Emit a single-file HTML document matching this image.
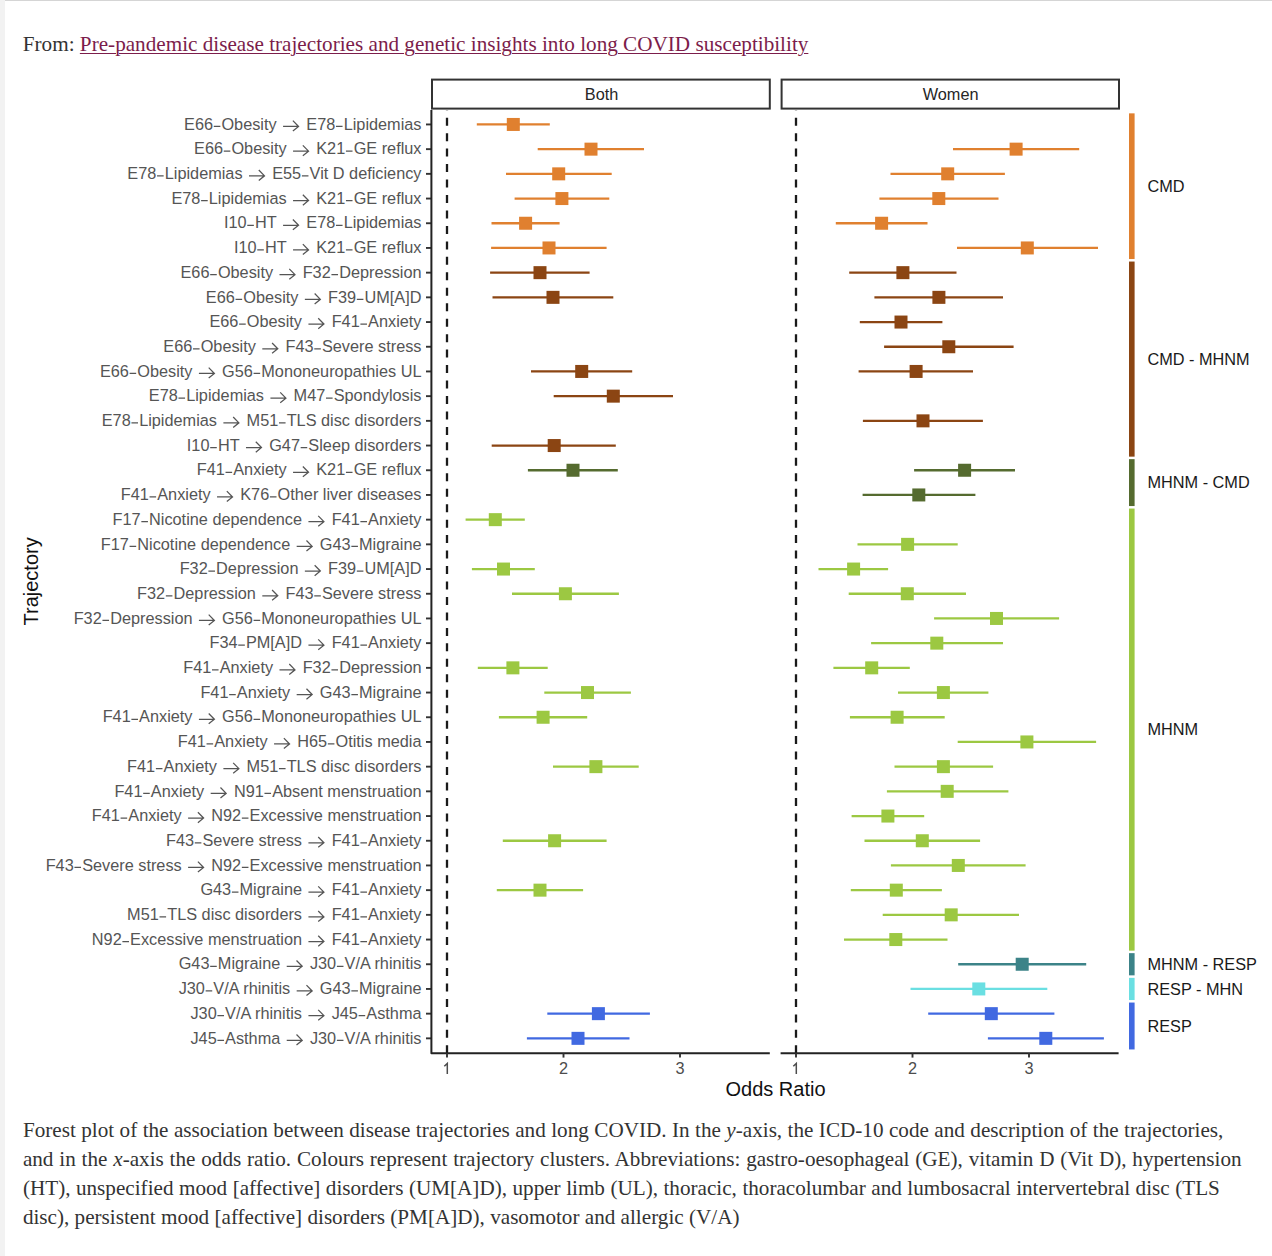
<!DOCTYPE html>
<html><head><meta charset="utf-8"><style>
html,body{margin:0;padding:0;background:#fff;}
body{width:1272px;height:1256px;position:relative;overflow:hidden;}
.edge-top{position:absolute;left:0;top:0;width:1272px;height:1px;background:#d5d5d5;}
.edge-left{position:absolute;left:0;top:0;width:5px;height:1256px;background:#f2f2f2;}
.from{position:absolute;left:22.8px;top:30px;font-family:"Liberation Serif",serif;font-size:21.18px;line-height:28px;color:#333;white-space:nowrap;}
.from a{color:#7c1d4b;text-decoration:underline;text-underline-offset:2px;text-decoration-thickness:1px;}
.cap{position:absolute;left:22.9px;top:1116px;font-family:"Liberation Serif",serif;font-size:21.16px;line-height:29.05px;color:#333;white-space:nowrap;}
svg{position:absolute;left:0;top:0;}
.yl{font-family:"Liberation Sans",sans-serif;font-size:16.3px;fill:#555;text-anchor:end;}
.xl{font-family:"Liberation Sans",sans-serif;font-size:16.3px;fill:#4d4d4d;text-anchor:middle;}
.st{font-family:"Liberation Sans",sans-serif;font-size:16.3px;fill:#262626;text-anchor:middle;}
.cl{font-family:"Liberation Sans",sans-serif;font-size:16.3px;fill:#1a1a1a;}
.ti{font-family:"Liberation Sans",sans-serif;font-size:20px;fill:#111;}
.sym{stroke:#555;stroke-width:1.25;fill:none;}
.one{stroke:#4d4d4d;stroke-width:1.5;fill:none;stroke-linejoin:miter;}
.tk{stroke:#333;stroke-width:1.9;}
.ax{stroke:#222;stroke-width:2;fill:none;stroke-linejoin:round;}
.strip{stroke:#333;stroke-width:2;fill:#fff;}
.dash{stroke:#1a1a1a;stroke-width:2.3;stroke-dasharray:8 7.46;stroke-dashoffset:7.76;}
</style></head><body>
<div class="edge-top"></div><div class="edge-left"></div>
<div class="from">From: <a>Pre-pandemic disease trajectories and genetic insights into long COVID susceptibility</a></div>
<svg width="1272" height="1256" viewBox="0 0 1272 1256">
<text x="421.50" y="129.65" class="yl">Lipidemias</text>
<text x="335.26" y="129.65" class="yl">E78</text>
<text x="276.67" y="129.65" class="yl">Obesity</text>
<text x="213.07" y="129.65" class="yl">E66</text>
<path d="M335.96 126.45h6.6M213.77 126.45h6.6M283.07 126.45h15.4M292.87 120.65l5.7 5.8l-5.7 4.6" class="sym"/>
<line x1="426" y1="124.45" x2="431.4" y2="124.45" class="tk"/>
<text x="421.50" y="154.35" class="yl">GE reflux</text>
<text x="345.23" y="154.35" class="yl">K21</text>
<text x="286.64" y="154.35" class="yl">Obesity</text>
<text x="223.04" y="154.35" class="yl">E66</text>
<path d="M345.93 151.15h6.6M223.74 151.15h6.6M293.04 151.15h15.4M302.84 145.35l5.7 5.8l-5.7 4.6" class="sym"/>
<line x1="426" y1="149.15" x2="431.4" y2="149.15" class="tk"/>
<text x="421.50" y="179.05" class="yl">Vit D deficiency</text>
<text x="301.18" y="179.05" class="yl">E55</text>
<text x="242.59" y="179.05" class="yl">Lipidemias</text>
<text x="156.35" y="179.05" class="yl">E78</text>
<path d="M301.88 175.85h6.6M157.05 175.85h6.6M248.99 175.85h15.4M258.79 170.05l5.7 5.8l-5.7 4.6" class="sym"/>
<line x1="426" y1="173.85" x2="431.4" y2="173.85" class="tk"/>
<text x="421.50" y="203.75" class="yl">GE reflux</text>
<text x="345.23" y="203.75" class="yl">K21</text>
<text x="286.64" y="203.75" class="yl">Lipidemias</text>
<text x="200.40" y="203.75" class="yl">E78</text>
<path d="M345.93 200.55h6.6M201.10 200.55h6.6M293.04 200.55h15.4M302.84 194.75l5.7 5.8l-5.7 4.6" class="sym"/>
<line x1="426" y1="198.55" x2="431.4" y2="198.55" class="tk"/>
<text x="421.50" y="228.45" class="yl">Lipidemias</text>
<text x="335.26" y="228.45" class="yl">E78</text>
<text x="276.67" y="228.45" class="yl">HT</text>
<text x="246.57" y="228.45" class="yl">I10</text>
<path d="M335.96 225.25h6.6M247.27 225.25h6.6M283.07 225.25h15.4M292.87 219.45l5.7 5.8l-5.7 4.6" class="sym"/>
<line x1="426" y1="223.25" x2="431.4" y2="223.25" class="tk"/>
<text x="421.50" y="253.15" class="yl">GE reflux</text>
<text x="345.23" y="253.15" class="yl">K21</text>
<text x="286.64" y="253.15" class="yl">HT</text>
<text x="256.54" y="253.15" class="yl">I10</text>
<path d="M345.93 249.95h6.6M257.24 249.95h6.6M293.04 249.95h15.4M302.84 244.15l5.7 5.8l-5.7 4.6" class="sym"/>
<line x1="426" y1="247.95" x2="431.4" y2="247.95" class="tk"/>
<text x="421.50" y="277.85" class="yl">Depression</text>
<text x="330.74" y="277.85" class="yl">F32</text>
<text x="273.08" y="277.85" class="yl">Obesity</text>
<text x="209.47" y="277.85" class="yl">E66</text>
<path d="M331.44 274.65h6.6M210.17 274.65h6.6M279.48 274.65h15.4M289.28 268.85l5.7 5.8l-5.7 4.6" class="sym"/>
<line x1="426" y1="272.65" x2="431.4" y2="272.65" class="tk"/>
<text x="421.50" y="302.55" class="yl">UM[A]D</text>
<text x="356.12" y="302.55" class="yl">F39</text>
<text x="298.45" y="302.55" class="yl">Obesity</text>
<text x="234.85" y="302.55" class="yl">E66</text>
<path d="M356.82 299.35h6.6M235.55 299.35h6.6M304.85 299.35h15.4M314.65 293.55l5.7 5.8l-5.7 4.6" class="sym"/>
<line x1="426" y1="297.35" x2="431.4" y2="297.35" class="tk"/>
<text x="421.50" y="327.25" class="yl">Anxiety</text>
<text x="359.69" y="327.25" class="yl">F41</text>
<text x="302.03" y="327.25" class="yl">Obesity</text>
<text x="238.43" y="327.25" class="yl">E66</text>
<path d="M360.39 324.05h6.6M239.13 324.05h6.6M308.43 324.05h15.4M318.23 318.25l5.7 5.8l-5.7 4.6" class="sym"/>
<line x1="426" y1="322.05" x2="431.4" y2="322.05" class="tk"/>
<text x="421.50" y="351.95" class="yl">Severe stress</text>
<text x="313.55" y="351.95" class="yl">F43</text>
<text x="255.89" y="351.95" class="yl">Obesity</text>
<text x="192.29" y="351.95" class="yl">E66</text>
<path d="M314.25 348.75h6.6M192.99 348.75h6.6M262.29 348.75h15.4M272.09 342.95l5.7 5.8l-5.7 4.6" class="sym"/>
<line x1="426" y1="346.75" x2="431.4" y2="346.75" class="tk"/>
<text x="421.50" y="376.65" class="yl">Mononeuropathies UL</text>
<text x="252.88" y="376.65" class="yl">G56</text>
<text x="192.50" y="376.65" class="yl">Obesity</text>
<text x="128.90" y="376.65" class="yl">E66</text>
<path d="M253.58 373.45h6.6M129.60 373.45h6.6M198.90 373.45h15.4M208.70 367.65l5.7 5.8l-5.7 4.6" class="sym"/>
<line x1="426" y1="371.45" x2="431.4" y2="371.45" class="tk"/>
<text x="421.50" y="401.35" class="yl">Spondylosis</text>
<text x="325.30" y="401.35" class="yl">M47</text>
<text x="264.02" y="401.35" class="yl">Lipidemias</text>
<text x="177.77" y="401.35" class="yl">E78</text>
<path d="M326.00 398.15h6.6M178.47 398.15h6.6M270.42 398.15h15.4M280.22 392.35l5.7 5.8l-5.7 4.6" class="sym"/>
<line x1="426" y1="396.15" x2="431.4" y2="396.15" class="tk"/>
<text x="421.50" y="426.05" class="yl">TLS disc disorders</text>
<text x="278.27" y="426.05" class="yl">M51</text>
<text x="216.98" y="426.05" class="yl">Lipidemias</text>
<text x="130.74" y="426.05" class="yl">E78</text>
<path d="M278.97 422.85h6.6M131.44 422.85h6.6M223.38 422.85h15.4M233.18 417.05l5.7 5.8l-5.7 4.6" class="sym"/>
<line x1="426" y1="420.85" x2="431.4" y2="420.85" class="tk"/>
<text x="421.50" y="450.75" class="yl">Sleep disorders</text>
<text x="299.96" y="450.75" class="yl">G47</text>
<text x="239.58" y="450.75" class="yl">HT</text>
<text x="209.48" y="450.75" class="yl">I10</text>
<path d="M300.66 447.55h6.6M210.18 447.55h6.6M245.98 447.55h15.4M255.78 441.75l5.7 5.8l-5.7 4.6" class="sym"/>
<line x1="426" y1="445.55" x2="431.4" y2="445.55" class="tk"/>
<text x="421.50" y="475.45" class="yl">GE reflux</text>
<text x="345.23" y="475.45" class="yl">K21</text>
<text x="286.64" y="475.45" class="yl">Anxiety</text>
<text x="224.83" y="475.45" class="yl">F41</text>
<path d="M345.93 472.25h6.6M225.53 472.25h6.6M293.04 472.25h15.4M302.84 466.45l5.7 5.8l-5.7 4.6" class="sym"/>
<line x1="426" y1="470.25" x2="431.4" y2="470.25" class="tk"/>
<text x="421.50" y="500.15" class="yl">Other liver diseases</text>
<text x="269.21" y="500.15" class="yl">K76</text>
<text x="210.63" y="500.15" class="yl">Anxiety</text>
<text x="148.82" y="500.15" class="yl">F41</text>
<path d="M269.91 496.95h6.6M149.52 496.95h6.6M217.03 496.95h15.4M226.83 491.15l5.7 5.8l-5.7 4.6" class="sym"/>
<line x1="426" y1="494.95" x2="431.4" y2="494.95" class="tk"/>
<text x="421.50" y="524.85" class="yl">Anxiety</text>
<text x="359.69" y="524.85" class="yl">F41</text>
<text x="302.03" y="524.85" class="yl">Nicotine dependence</text>
<text x="140.65" y="524.85" class="yl">F17</text>
<path d="M360.39 521.65h6.6M141.35 521.65h6.6M308.43 521.65h15.4M318.23 515.85l5.7 5.8l-5.7 4.6" class="sym"/>
<line x1="426" y1="519.65" x2="431.4" y2="519.65" class="tk"/>
<text x="421.50" y="549.55" class="yl">Migraine</text>
<text x="350.65" y="549.55" class="yl">G43</text>
<text x="290.27" y="549.55" class="yl">Nicotine dependence</text>
<text x="128.88" y="549.55" class="yl">F17</text>
<path d="M351.35 546.35h6.6M129.58 546.35h6.6M296.67 546.35h15.4M306.47 540.55l5.7 5.8l-5.7 4.6" class="sym"/>
<line x1="426" y1="544.35" x2="431.4" y2="544.35" class="tk"/>
<text x="421.50" y="574.25" class="yl">UM[A]D</text>
<text x="356.12" y="574.25" class="yl">F39</text>
<text x="298.45" y="574.25" class="yl">Depression</text>
<text x="207.69" y="574.25" class="yl">F32</text>
<path d="M356.82 571.05h6.6M208.39 571.05h6.6M304.85 571.05h15.4M314.65 565.25l5.7 5.8l-5.7 4.6" class="sym"/>
<line x1="426" y1="569.05" x2="431.4" y2="569.05" class="tk"/>
<text x="421.50" y="598.95" class="yl">Severe stress</text>
<text x="313.55" y="598.95" class="yl">F43</text>
<text x="255.89" y="598.95" class="yl">Depression</text>
<text x="165.13" y="598.95" class="yl">F32</text>
<path d="M314.25 595.75h6.6M165.83 595.75h6.6M262.29 595.75h15.4M272.09 589.95l5.7 5.8l-5.7 4.6" class="sym"/>
<line x1="426" y1="593.75" x2="431.4" y2="593.75" class="tk"/>
<text x="421.50" y="623.65" class="yl">Mononeuropathies UL</text>
<text x="252.88" y="623.65" class="yl">G56</text>
<text x="192.50" y="623.65" class="yl">Depression</text>
<text x="101.74" y="623.65" class="yl">F32</text>
<path d="M253.58 620.45h6.6M102.44 620.45h6.6M198.90 620.45h15.4M208.70 614.65l5.7 5.8l-5.7 4.6" class="sym"/>
<line x1="426" y1="618.45" x2="431.4" y2="618.45" class="tk"/>
<text x="421.50" y="648.35" class="yl">Anxiety</text>
<text x="359.69" y="648.35" class="yl">F41</text>
<text x="302.03" y="648.35" class="yl">PM[A]D</text>
<text x="237.54" y="648.35" class="yl">F34</text>
<path d="M360.39 645.15h6.6M238.24 645.15h6.6M308.43 645.15h15.4M318.23 639.35l5.7 5.8l-5.7 4.6" class="sym"/>
<line x1="426" y1="643.15" x2="431.4" y2="643.15" class="tk"/>
<text x="421.50" y="673.05" class="yl">Depression</text>
<text x="330.74" y="673.05" class="yl">F32</text>
<text x="273.08" y="673.05" class="yl">Anxiety</text>
<text x="211.27" y="673.05" class="yl">F41</text>
<path d="M331.44 669.85h6.6M211.97 669.85h6.6M279.48 669.85h15.4M289.28 664.05l5.7 5.8l-5.7 4.6" class="sym"/>
<line x1="426" y1="667.85" x2="431.4" y2="667.85" class="tk"/>
<text x="421.50" y="697.75" class="yl">Migraine</text>
<text x="350.65" y="697.75" class="yl">G43</text>
<text x="290.27" y="697.75" class="yl">Anxiety</text>
<text x="228.46" y="697.75" class="yl">F41</text>
<path d="M351.35 694.55h6.6M229.16 694.55h6.6M296.67 694.55h15.4M306.47 688.75l5.7 5.8l-5.7 4.6" class="sym"/>
<line x1="426" y1="692.55" x2="431.4" y2="692.55" class="tk"/>
<text x="421.50" y="722.45" class="yl">Mononeuropathies UL</text>
<text x="252.88" y="722.45" class="yl">G56</text>
<text x="192.50" y="722.45" class="yl">Anxiety</text>
<text x="130.69" y="722.45" class="yl">F41</text>
<path d="M253.58 719.25h6.6M131.39 719.25h6.6M198.90 719.25h15.4M208.70 713.45l5.7 5.8l-5.7 4.6" class="sym"/>
<line x1="426" y1="717.25" x2="431.4" y2="717.25" class="tk"/>
<text x="421.50" y="747.15" class="yl">Otitis media</text>
<text x="327.13" y="747.15" class="yl">H65</text>
<text x="267.66" y="747.15" class="yl">Anxiety</text>
<text x="205.85" y="747.15" class="yl">F41</text>
<path d="M327.83 743.95h6.6M206.55 743.95h6.6M274.06 743.95h15.4M283.86 738.15l5.7 5.8l-5.7 4.6" class="sym"/>
<line x1="426" y1="741.95" x2="431.4" y2="741.95" class="tk"/>
<text x="421.50" y="771.85" class="yl">TLS disc disorders</text>
<text x="278.27" y="771.85" class="yl">M51</text>
<text x="216.98" y="771.85" class="yl">Anxiety</text>
<text x="155.18" y="771.85" class="yl">F41</text>
<path d="M278.97 768.65h6.6M155.88 768.65h6.6M223.38 768.65h15.4M233.18 762.85l5.7 5.8l-5.7 4.6" class="sym"/>
<line x1="426" y1="766.65" x2="431.4" y2="766.65" class="tk"/>
<text x="421.50" y="796.55" class="yl">Absent menstruation</text>
<text x="263.76" y="796.55" class="yl">N91</text>
<text x="204.28" y="796.55" class="yl">Anxiety</text>
<text x="142.48" y="796.55" class="yl">F41</text>
<path d="M264.46 793.35h6.6M143.18 793.35h6.6M210.68 793.35h15.4M220.48 787.55l5.7 5.8l-5.7 4.6" class="sym"/>
<line x1="426" y1="791.35" x2="431.4" y2="791.35" class="tk"/>
<text x="421.50" y="821.25" class="yl">Excessive menstruation</text>
<text x="241.16" y="821.25" class="yl">N92</text>
<text x="181.69" y="821.25" class="yl">Anxiety</text>
<text x="119.88" y="821.25" class="yl">F41</text>
<path d="M241.86 818.05h6.6M120.58 818.05h6.6M188.09 818.05h15.4M197.89 812.25l5.7 5.8l-5.7 4.6" class="sym"/>
<line x1="426" y1="816.05" x2="431.4" y2="816.05" class="tk"/>
<text x="421.50" y="845.95" class="yl">Anxiety</text>
<text x="359.69" y="845.95" class="yl">F41</text>
<text x="302.03" y="845.95" class="yl">Severe stress</text>
<text x="194.08" y="845.95" class="yl">F43</text>
<path d="M360.39 842.75h6.6M194.78 842.75h6.6M308.43 842.75h15.4M318.23 836.95l5.7 5.8l-5.7 4.6" class="sym"/>
<line x1="426" y1="840.75" x2="431.4" y2="840.75" class="tk"/>
<text x="421.50" y="870.65" class="yl">Excessive menstruation</text>
<text x="241.16" y="870.65" class="yl">N92</text>
<text x="181.69" y="870.65" class="yl">Severe stress</text>
<text x="73.74" y="870.65" class="yl">F43</text>
<path d="M241.86 867.45h6.6M74.44 867.45h6.6M188.09 867.45h15.4M197.89 861.65l5.7 5.8l-5.7 4.6" class="sym"/>
<line x1="426" y1="865.45" x2="431.4" y2="865.45" class="tk"/>
<text x="421.50" y="895.35" class="yl">Anxiety</text>
<text x="359.69" y="895.35" class="yl">F41</text>
<text x="302.03" y="895.35" class="yl">Migraine</text>
<text x="231.18" y="895.35" class="yl">G43</text>
<path d="M360.39 892.15h6.6M231.88 892.15h6.6M308.43 892.15h15.4M318.23 886.35l5.7 5.8l-5.7 4.6" class="sym"/>
<line x1="426" y1="890.15" x2="431.4" y2="890.15" class="tk"/>
<text x="421.50" y="920.05" class="yl">Anxiety</text>
<text x="359.69" y="920.05" class="yl">F41</text>
<text x="302.03" y="920.05" class="yl">TLS disc disorders</text>
<text x="158.80" y="920.05" class="yl">M51</text>
<path d="M360.39 916.85h6.6M159.50 916.85h6.6M308.43 916.85h15.4M318.23 911.05l5.7 5.8l-5.7 4.6" class="sym"/>
<line x1="426" y1="914.85" x2="431.4" y2="914.85" class="tk"/>
<text x="421.50" y="944.75" class="yl">Anxiety</text>
<text x="359.69" y="944.75" class="yl">F41</text>
<text x="302.03" y="944.75" class="yl">Excessive menstruation</text>
<text x="121.69" y="944.75" class="yl">N92</text>
<path d="M360.39 941.55h6.6M122.39 941.55h6.6M308.43 941.55h15.4M318.23 935.75l5.7 5.8l-5.7 4.6" class="sym"/>
<line x1="426" y1="939.55" x2="431.4" y2="939.55" class="tk"/>
<text x="421.50" y="969.45" class="yl">V/A rhinitis</text>
<text x="336.18" y="969.45" class="yl">J30</text>
<text x="280.31" y="969.45" class="yl">Migraine</text>
<text x="209.46" y="969.45" class="yl">G43</text>
<path d="M336.88 966.25h6.6M210.16 966.25h6.6M286.71 966.25h15.4M296.51 960.45l5.7 5.8l-5.7 4.6" class="sym"/>
<line x1="426" y1="964.25" x2="431.4" y2="964.25" class="tk"/>
<text x="421.50" y="994.15" class="yl">Migraine</text>
<text x="350.65" y="994.15" class="yl">G43</text>
<text x="290.27" y="994.15" class="yl">V/A rhinitis</text>
<text x="204.94" y="994.15" class="yl">J30</text>
<path d="M351.35 990.95h6.6M205.64 990.95h6.6M296.67 990.95h15.4M306.47 985.15l5.7 5.8l-5.7 4.6" class="sym"/>
<line x1="426" y1="988.95" x2="431.4" y2="988.95" class="tk"/>
<text x="421.50" y="1018.85" class="yl">Asthma</text>
<text x="357.90" y="1018.85" class="yl">J45</text>
<text x="302.03" y="1018.85" class="yl">V/A rhinitis</text>
<text x="216.71" y="1018.85" class="yl">J30</text>
<path d="M358.60 1015.65h6.6M217.41 1015.65h6.6M308.43 1015.65h15.4M318.23 1009.85l5.7 5.8l-5.7 4.6" class="sym"/>
<line x1="426" y1="1013.65" x2="431.4" y2="1013.65" class="tk"/>
<text x="421.50" y="1043.55" class="yl">V/A rhinitis</text>
<text x="336.18" y="1043.55" class="yl">J30</text>
<text x="280.31" y="1043.55" class="yl">Asthma</text>
<text x="216.71" y="1043.55" class="yl">J45</text>
<path d="M336.88 1040.35h6.6M217.41 1040.35h6.6M286.71 1040.35h15.4M296.51 1034.55l5.7 5.8l-5.7 4.6" class="sym"/>
<line x1="426" y1="1038.35" x2="431.4" y2="1038.35" class="tk"/>
<rect x="432.00" y="79.6" width="337.80" height="29" class="strip"/>
<text x="601.60" y="99.8" class="st">Both</text>
<line x1="447" y1="110" x2="447" y2="1053.3" class="dash"/>
<path d="M431.4 110 L431.4 1053.3 L769.8 1053.3" class="ax"/>
<line x1="447.00" y1="1053.3" x2="447.00" y2="1057.6" class="tk"/>
<path d="M447.30 1074 V1063.4 L444.30 1066.3" class="one"/>
<line x1="563.50" y1="1053.3" x2="563.50" y2="1057.6" class="tk"/>
<text x="563.50" y="1074" class="xl">2</text>
<line x1="680.00" y1="1053.3" x2="680.00" y2="1057.6" class="tk"/>
<text x="680.00" y="1074" class="xl">3</text>
<line x1="476.8" y1="124.45" x2="549.8" y2="124.45" stroke="#E0802F" stroke-width="2.3"/>
<rect x="506.80" y="117.95" width="13.0" height="13.0" fill="#E0802F"/>
<line x1="537.7" y1="149.15" x2="644" y2="149.15" stroke="#E0802F" stroke-width="2.3"/>
<rect x="584.50" y="142.65" width="13.0" height="13.0" fill="#E0802F"/>
<line x1="506" y1="173.85" x2="611.7" y2="173.85" stroke="#E0802F" stroke-width="2.3"/>
<rect x="552.20" y="167.35" width="13.0" height="13.0" fill="#E0802F"/>
<line x1="514.6" y1="198.55" x2="609.3" y2="198.55" stroke="#E0802F" stroke-width="2.3"/>
<rect x="555.40" y="192.05" width="13.0" height="13.0" fill="#E0802F"/>
<line x1="491.5" y1="223.25" x2="559.6" y2="223.25" stroke="#E0802F" stroke-width="2.3"/>
<rect x="519.10" y="216.75" width="13.0" height="13.0" fill="#E0802F"/>
<line x1="491.1" y1="247.95" x2="606.6" y2="247.95" stroke="#E0802F" stroke-width="2.3"/>
<rect x="542.50" y="241.45" width="13.0" height="13.0" fill="#E0802F"/>
<line x1="490.1" y1="272.65" x2="589.6" y2="272.65" stroke="#8B4513" stroke-width="2.3"/>
<rect x="533.50" y="266.15" width="13.0" height="13.0" fill="#8B4513"/>
<line x1="492.5" y1="297.35" x2="613.3" y2="297.35" stroke="#8B4513" stroke-width="2.3"/>
<rect x="546.50" y="290.85" width="13.0" height="13.0" fill="#8B4513"/>
<line x1="531" y1="371.45" x2="632.2" y2="371.45" stroke="#8B4513" stroke-width="2.3"/>
<rect x="575.20" y="364.95" width="13.0" height="13.0" fill="#8B4513"/>
<line x1="553.7" y1="396.15" x2="673" y2="396.15" stroke="#8B4513" stroke-width="2.3"/>
<rect x="606.80" y="389.65" width="13.0" height="13.0" fill="#8B4513"/>
<line x1="491.7" y1="445.55" x2="615.8" y2="445.55" stroke="#8B4513" stroke-width="2.3"/>
<rect x="547.70" y="439.05" width="13.0" height="13.0" fill="#8B4513"/>
<line x1="527.9" y1="470.25" x2="617.8" y2="470.25" stroke="#556B2F" stroke-width="2.3"/>
<rect x="566.50" y="463.75" width="13.0" height="13.0" fill="#556B2F"/>
<line x1="465.6" y1="519.65" x2="524.8" y2="519.65" stroke="#9CC842" stroke-width="2.3"/>
<rect x="488.80" y="513.15" width="13.0" height="13.0" fill="#9CC842"/>
<line x1="471.9" y1="569.05" x2="534.8" y2="569.05" stroke="#9CC842" stroke-width="2.3"/>
<rect x="497.00" y="562.55" width="13.0" height="13.0" fill="#9CC842"/>
<line x1="512" y1="593.75" x2="618.9" y2="593.75" stroke="#9CC842" stroke-width="2.3"/>
<rect x="558.90" y="587.25" width="13.0" height="13.0" fill="#9CC842"/>
<line x1="477.8" y1="667.85" x2="547.7" y2="667.85" stroke="#9CC842" stroke-width="2.3"/>
<rect x="506.40" y="661.35" width="13.0" height="13.0" fill="#9CC842"/>
<line x1="544.3" y1="692.55" x2="630.9" y2="692.55" stroke="#9CC842" stroke-width="2.3"/>
<rect x="581.00" y="686.05" width="13.0" height="13.0" fill="#9CC842"/>
<line x1="498.9" y1="717.25" x2="587.2" y2="717.25" stroke="#9CC842" stroke-width="2.3"/>
<rect x="536.60" y="710.75" width="13.0" height="13.0" fill="#9CC842"/>
<line x1="553" y1="766.65" x2="638.7" y2="766.65" stroke="#9CC842" stroke-width="2.3"/>
<rect x="589.40" y="760.15" width="13.0" height="13.0" fill="#9CC842"/>
<line x1="502.8" y1="840.75" x2="606.6" y2="840.75" stroke="#9CC842" stroke-width="2.3"/>
<rect x="548.10" y="834.25" width="13.0" height="13.0" fill="#9CC842"/>
<line x1="496.8" y1="890.15" x2="583.1" y2="890.15" stroke="#9CC842" stroke-width="2.3"/>
<rect x="533.50" y="883.65" width="13.0" height="13.0" fill="#9CC842"/>
<line x1="547.3" y1="1013.65" x2="649.9" y2="1013.65" stroke="#4169E1" stroke-width="2.3"/>
<rect x="591.90" y="1007.15" width="13.0" height="13.0" fill="#4169E1"/>
<line x1="526.9" y1="1038.35" x2="629.5" y2="1038.35" stroke="#4169E1" stroke-width="2.3"/>
<rect x="571.50" y="1031.85" width="13.0" height="13.0" fill="#4169E1"/>
<rect x="781.60" y="79.6" width="337.40" height="29" class="strip"/>
<text x="950.60" y="99.8" class="st">Women</text>
<line x1="796" y1="110" x2="796" y2="1053.3" class="dash"/>
<path d="M780.6 1053.3 L1118.6 1053.3" class="ax"/>
<line x1="796.00" y1="1053.3" x2="796.00" y2="1057.6" class="tk"/>
<path d="M796.30 1074 V1063.4 L793.30 1066.3" class="one"/>
<line x1="912.50" y1="1053.3" x2="912.50" y2="1057.6" class="tk"/>
<text x="912.50" y="1074" class="xl">2</text>
<line x1="1029.00" y1="1053.3" x2="1029.00" y2="1057.6" class="tk"/>
<text x="1029.00" y="1074" class="xl">3</text>
<line x1="953" y1="149.15" x2="1079.2" y2="149.15" stroke="#E0802F" stroke-width="2.3"/>
<rect x="1009.60" y="142.65" width="13.0" height="13.0" fill="#E0802F"/>
<line x1="890.5" y1="173.85" x2="1004.9" y2="173.85" stroke="#E0802F" stroke-width="2.3"/>
<rect x="941.20" y="167.35" width="13.0" height="13.0" fill="#E0802F"/>
<line x1="879.4" y1="198.55" x2="998.5" y2="198.55" stroke="#E0802F" stroke-width="2.3"/>
<rect x="932.30" y="192.05" width="13.0" height="13.0" fill="#E0802F"/>
<line x1="835.8" y1="223.25" x2="927.5" y2="223.25" stroke="#E0802F" stroke-width="2.3"/>
<rect x="875.10" y="216.75" width="13.0" height="13.0" fill="#E0802F"/>
<line x1="957" y1="247.95" x2="1098" y2="247.95" stroke="#E0802F" stroke-width="2.3"/>
<rect x="1020.80" y="241.45" width="13.0" height="13.0" fill="#E0802F"/>
<line x1="849.2" y1="272.65" x2="956.5" y2="272.65" stroke="#8B4513" stroke-width="2.3"/>
<rect x="896.40" y="266.15" width="13.0" height="13.0" fill="#8B4513"/>
<line x1="874.4" y1="297.35" x2="1003" y2="297.35" stroke="#8B4513" stroke-width="2.3"/>
<rect x="932.40" y="290.85" width="13.0" height="13.0" fill="#8B4513"/>
<line x1="859.8" y1="322.05" x2="942.4" y2="322.05" stroke="#8B4513" stroke-width="2.3"/>
<rect x="894.50" y="315.55" width="13.0" height="13.0" fill="#8B4513"/>
<line x1="884.1" y1="346.75" x2="1013.6" y2="346.75" stroke="#8B4513" stroke-width="2.3"/>
<rect x="942.30" y="340.25" width="13.0" height="13.0" fill="#8B4513"/>
<line x1="858.6" y1="371.45" x2="973" y2="371.45" stroke="#8B4513" stroke-width="2.3"/>
<rect x="909.60" y="364.95" width="13.0" height="13.0" fill="#8B4513"/>
<line x1="862.9" y1="420.85" x2="982.9" y2="420.85" stroke="#8B4513" stroke-width="2.3"/>
<rect x="916.50" y="414.35" width="13.0" height="13.0" fill="#8B4513"/>
<line x1="914.1" y1="470.25" x2="1015" y2="470.25" stroke="#556B2F" stroke-width="2.3"/>
<rect x="958.10" y="463.75" width="13.0" height="13.0" fill="#556B2F"/>
<line x1="862.6" y1="494.95" x2="975.4" y2="494.95" stroke="#556B2F" stroke-width="2.3"/>
<rect x="912.30" y="488.45" width="13.0" height="13.0" fill="#556B2F"/>
<line x1="857.5" y1="544.35" x2="957.7" y2="544.35" stroke="#9CC842" stroke-width="2.3"/>
<rect x="901.10" y="537.85" width="13.0" height="13.0" fill="#9CC842"/>
<line x1="818.5" y1="569.05" x2="888.1" y2="569.05" stroke="#9CC842" stroke-width="2.3"/>
<rect x="847.10" y="562.55" width="13.0" height="13.0" fill="#9CC842"/>
<line x1="848.7" y1="593.75" x2="966" y2="593.75" stroke="#9CC842" stroke-width="2.3"/>
<rect x="900.80" y="587.25" width="13.0" height="13.0" fill="#9CC842"/>
<line x1="934.1" y1="618.45" x2="1059.1" y2="618.45" stroke="#9CC842" stroke-width="2.3"/>
<rect x="990.00" y="611.95" width="13.0" height="13.0" fill="#9CC842"/>
<line x1="871.1" y1="643.15" x2="1003" y2="643.15" stroke="#9CC842" stroke-width="2.3"/>
<rect x="930.30" y="636.65" width="13.0" height="13.0" fill="#9CC842"/>
<line x1="833.4" y1="667.85" x2="909.8" y2="667.85" stroke="#9CC842" stroke-width="2.3"/>
<rect x="865.20" y="661.35" width="13.0" height="13.0" fill="#9CC842"/>
<line x1="898" y1="692.55" x2="988.4" y2="692.55" stroke="#9CC842" stroke-width="2.3"/>
<rect x="936.90" y="686.05" width="13.0" height="13.0" fill="#9CC842"/>
<line x1="849.9" y1="717.25" x2="944.7" y2="717.25" stroke="#9CC842" stroke-width="2.3"/>
<rect x="890.60" y="710.75" width="13.0" height="13.0" fill="#9CC842"/>
<line x1="957.7" y1="741.95" x2="1096.1" y2="741.95" stroke="#9CC842" stroke-width="2.3"/>
<rect x="1020.40" y="735.45" width="13.0" height="13.0" fill="#9CC842"/>
<line x1="894.5" y1="766.65" x2="993.1" y2="766.65" stroke="#9CC842" stroke-width="2.3"/>
<rect x="936.90" y="760.15" width="13.0" height="13.0" fill="#9CC842"/>
<line x1="886.9" y1="791.35" x2="1008.4" y2="791.35" stroke="#9CC842" stroke-width="2.3"/>
<rect x="940.70" y="784.85" width="13.0" height="13.0" fill="#9CC842"/>
<line x1="851.6" y1="816.05" x2="924.2" y2="816.05" stroke="#9CC842" stroke-width="2.3"/>
<rect x="881.40" y="809.55" width="13.0" height="13.0" fill="#9CC842"/>
<line x1="864.5" y1="840.75" x2="980.1" y2="840.75" stroke="#9CC842" stroke-width="2.3"/>
<rect x="915.80" y="834.25" width="13.0" height="13.0" fill="#9CC842"/>
<line x1="890.9" y1="865.45" x2="1025.6" y2="865.45" stroke="#9CC842" stroke-width="2.3"/>
<rect x="951.80" y="858.95" width="13.0" height="13.0" fill="#9CC842"/>
<line x1="850.8" y1="890.15" x2="941.9" y2="890.15" stroke="#9CC842" stroke-width="2.3"/>
<rect x="889.80" y="883.65" width="13.0" height="13.0" fill="#9CC842"/>
<line x1="882.7" y1="914.85" x2="1019" y2="914.85" stroke="#9CC842" stroke-width="2.3"/>
<rect x="944.70" y="908.35" width="13.0" height="13.0" fill="#9CC842"/>
<line x1="844" y1="939.55" x2="947.5" y2="939.55" stroke="#9CC842" stroke-width="2.3"/>
<rect x="889.30" y="933.05" width="13.0" height="13.0" fill="#9CC842"/>
<line x1="958.2" y1="964.25" x2="1086.2" y2="964.25" stroke="#3C8388" stroke-width="2.3"/>
<rect x="1015.70" y="957.75" width="13.0" height="13.0" fill="#3C8388"/>
<line x1="910.5" y1="988.95" x2="1047.3" y2="988.95" stroke="#6ADFE2" stroke-width="2.3"/>
<rect x="972.30" y="982.45" width="13.0" height="13.0" fill="#6ADFE2"/>
<line x1="928.2" y1="1013.65" x2="1054.4" y2="1013.65" stroke="#4169E1" stroke-width="2.3"/>
<rect x="984.80" y="1007.15" width="13.0" height="13.0" fill="#4169E1"/>
<line x1="987.9" y1="1038.35" x2="1103.9" y2="1038.35" stroke="#4169E1" stroke-width="2.3"/>
<rect x="1039.30" y="1031.85" width="13.0" height="13.0" fill="#4169E1"/>
<rect x="1129" y="113.35" width="5.6" height="145.70" fill="#E0802F"/>
<text x="1147.5" y="191.90" class="cl">CMD</text>
<rect x="1129" y="261.55" width="5.6" height="195.10" fill="#8B4513"/>
<text x="1147.5" y="364.80" class="cl">CMD - MHNM</text>
<rect x="1129" y="459.15" width="5.6" height="46.90" fill="#556B2F"/>
<text x="1147.5" y="488.30" class="cl">MHNM - CMD</text>
<rect x="1129" y="508.55" width="5.6" height="442.10" fill="#9CC842"/>
<text x="1147.5" y="735.30" class="cl">MHNM</text>
<rect x="1129" y="953.15" width="5.6" height="22.20" fill="#3C8388"/>
<text x="1147.5" y="969.95" class="cl">MHNM - RESP</text>
<rect x="1129" y="977.85" width="5.6" height="22.20" fill="#6ADFE2"/>
<text x="1147.5" y="994.65" class="cl">RESP - MHN</text>
<rect x="1129" y="1002.55" width="5.6" height="46.90" fill="#4169E1"/>
<text x="1147.5" y="1031.70" class="cl">RESP</text>
<text x="775.5" y="1095.7" class="ti" text-anchor="middle">Odds Ratio</text>
<text transform="translate(38.2 581.4) rotate(-90)" class="ti" text-anchor="middle">Trajectory</text>
</svg>
<div class="cap"><div style="word-spacing:0.15px">Forest plot of the association between disease trajectories and long COVID. In the <i>y</i>-axis, the ICD-10 code and description of the trajectories,</div><div style="word-spacing:0.54px">and in the <i>x</i>-axis the odds ratio. Colours represent trajectory clusters. Abbreviations: gastro-oesophageal (GE), vitamin D (Vit D), hypertension</div><div style="word-spacing:0.2px">(HT), unspecified mood [affective] disorders (UM[A]D), upper limb (UL), thoracic, thoracolumbar and lumbosacral intervertebral disc (TLS</div><div>disc), persistent mood [affective] disorders (PM[A]D), vasomotor and allergic (V/A)</div></div>
</body></html>
